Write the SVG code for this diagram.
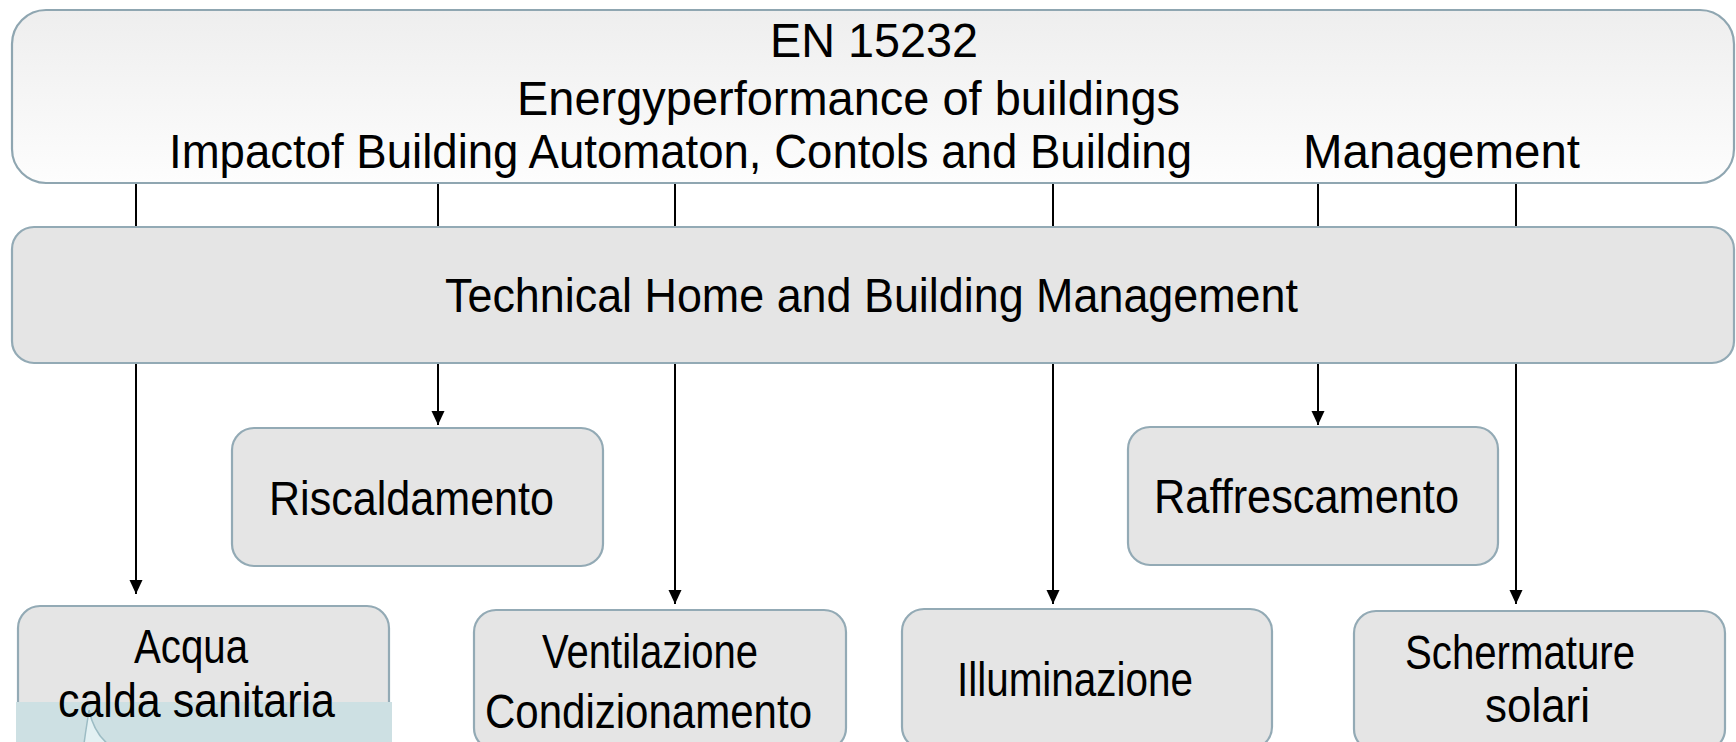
<svg xmlns="http://www.w3.org/2000/svg" width="1736" height="742" viewBox="0 0 1736 742">
<defs>
<linearGradient id="gTop" x1="0" y1="0" x2="0" y2="1">
<stop offset="0" stop-color="#eeeeee"/>
<stop offset="1" stop-color="#fdfdfd"/>
</linearGradient>
<marker id="arr" viewBox="0 -7 14 14" refX="14" refY="0" markerWidth="14" markerHeight="14" markerUnits="userSpaceOnUse" orient="auto">
<path d="M0,-6.5 L14,0 L0,6.5 z" fill="#000"/>
</marker>
</defs>
<style>
.box{fill:#e5e5e5;stroke:#93aab5;stroke-width:2.2}
.top{fill:url(#gTop);stroke:#8fa6b1;stroke-width:2.2}
.t{font-family:"Liberation Sans",Arial,sans-serif;font-size:47.5px;fill:#000}
.ca{stroke:#000;stroke-width:2;fill:none;marker-end:url(#arr)}
</style>
<g id="connectors">
<line class="ca" x1="136" y1="183" x2="136" y2="594"/>
<line class="ca" x1="438" y1="183" x2="438" y2="425"/>
<line class="ca" x1="675" y1="183" x2="675" y2="604"/>
<line class="ca" x1="1053" y1="183" x2="1053" y2="604"/>
<line class="ca" x1="1318" y1="183" x2="1318" y2="425"/>
<line class="ca" x1="1516" y1="183" x2="1516" y2="604"/>
</g>
<g id="en15232">
<rect class="top" x="12" y="10" width="1722" height="173" rx="34"/>
<text class="t" x="770" y="57" textLength="208" lengthAdjust="spacingAndGlyphs">EN 15232</text>
<text class="t" x="517" y="115" textLength="663" lengthAdjust="spacingAndGlyphs">Energyperformance of buildings</text>
<text class="t" x="169" y="168" textLength="1023" lengthAdjust="spacingAndGlyphs">Impactof Building Automaton, Contols and Building</text>
<text class="t" x="1303" y="168" textLength="277" lengthAdjust="spacingAndGlyphs">Management</text>
</g>
<g id="technical">
<rect class="box" x="12" y="227" width="1722" height="136" rx="22"/>
<text class="t" x="445" y="312" textLength="853" lengthAdjust="spacingAndGlyphs">Technical Home and Building Management</text>
</g>
<g id="riscaldamento">
<rect class="box" x="232" y="428" width="371" height="138" rx="22"/>
<text class="t" x="269" y="515" textLength="285" lengthAdjust="spacingAndGlyphs">Riscaldamento</text>
</g>
<g id="raffrescamento">
<rect class="box" x="1128" y="427" width="370" height="138" rx="22"/>
<text class="t" x="1154" y="513" textLength="305" lengthAdjust="spacingAndGlyphs">Raffrescamento</text>
</g>
<g id="acqua">
<rect class="box" x="18" y="606" width="371" height="142" rx="22"/>
<rect x="16" y="702" width="376" height="42" fill="#cde0e3"/>
<path d="M84,744 C86,728 88,718 89,710 C92,724 98,736 108,744 Z" fill="#e3f1f3" stroke="#9cbcc4" stroke-width="1.5"/>
<text class="t" x="134" y="663" textLength="114" lengthAdjust="spacingAndGlyphs">Acqua</text>
<text class="t" x="58" y="717" textLength="277" lengthAdjust="spacingAndGlyphs">calda sanitaria</text>
</g>
<g id="ventilazione">
<rect class="box" x="474" y="610" width="372" height="140" rx="22"/>
<text class="t" x="542" y="668" textLength="216" lengthAdjust="spacingAndGlyphs">Ventilazione</text>
<text class="t" x="485" y="728" textLength="327" lengthAdjust="spacingAndGlyphs">Condizionamento</text>
</g>
<g id="illuminazione">
<rect class="box" x="902" y="609" width="370" height="140" rx="22"/>
<text class="t" x="957" y="696" textLength="236" lengthAdjust="spacingAndGlyphs">Illuminazione</text>
</g>
<g id="schermature">
<rect class="box" x="1354" y="611" width="371" height="140" rx="22"/>
<text class="t" x="1405" y="669" textLength="230" lengthAdjust="spacingAndGlyphs">Schermature</text>
<text class="t" x="1485" y="722" textLength="105" lengthAdjust="spacingAndGlyphs">solari</text>
</g>
</svg>
